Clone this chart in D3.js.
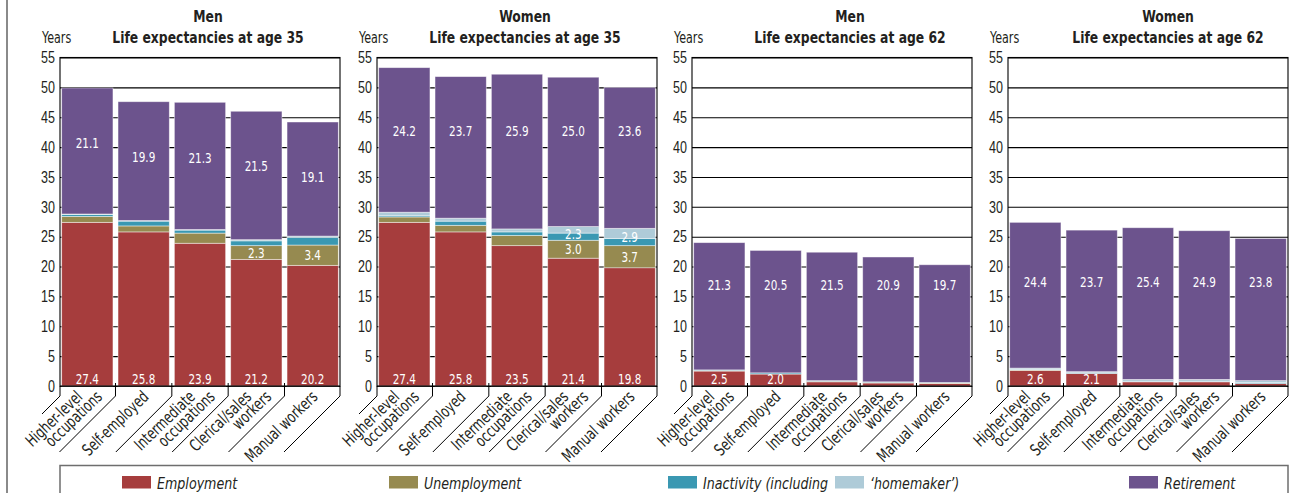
<!DOCTYPE html>
<html>
<head>
<meta charset="utf-8">
<script src="https://cdn.jsdelivr.net/npm/d3@7"></script>
<style>
body { margin: 0; background: #fff; }
svg { display: block; font-family: "DejaVu Sans Condensed", "DejaVu Sans", sans-serif; }
</style>
</head>
<body>
<svg id="chart" width="1293" height="493"></svg>
<script>
// categories and label lines
const categories = ["Higher-level occupations", "Self-employed", "Intermediate occupations", "Clerical/sales workers", "Manual workers"];
const categoryLines = [["Higher-level", "occupations"], ["Self-employed"], ["Intermediate", "occupations"], ["Clerical/sales", "workers"], ["Manual workers"]];

const panelTitles = [
    ["Men", "Life expectancies at age 35"],
    ["Women", "Life expectancies at age 35"],
    ["Men", "Life expectancies at age 62"],
    ["Women", "Life expectancies at age 62"]
];

const yTicks = [0, 5, 10, 15, 20, 25, 30, 35, 40, 45, 50, 55];

// years spent in each state
const men35Employment   = [27.4, 25.8, 23.9, 21.2, 20.2];
const men35Unemployment = [1.0, 1.0, 1.7, 2.3, 3.4];
const men35Inactivity   = [0.3, 0.8, 0.5, 0.8, 1.3];
const men35Homemaker    = [0.1, 0.1, 0.1, 0.2, 0.2];
const men35Retirement   = [21.1, 19.9, 21.3, 21.5, 19.1];

const women35Employment   = [27.4, 25.8, 23.5, 21.4, 19.8];
const women35Unemployment = [0.9, 1.1, 1.7, 3.0, 3.7];
const women35Inactivity   = [0.2, 0.7, 0.6, 1.2, 1.2];
const women35Homemaker    = [0.6, 0.5, 0.5, 1.1, 1.7];
const women35Retirement   = [24.2, 23.7, 25.9, 25.0, 23.6];

const men62Employment   = [2.5, 2.0, 0.7, 0.5, 0.4];
const men62Unemployment = [0.1, 0.0, 0.1, 0.1, 0.1];
const men62Inactivity   = [0.1, 0.2, 0.1, 0.1, 0.1];
const men62Homemaker    = [0.0, 0.0, 0.0, 0.0, 0.0];
const men62Retirement   = [21.3, 20.5, 21.5, 20.9, 19.7];

const women62Employment   = [2.6, 2.1, 0.7, 0.7, 0.4];
const women62Unemployment = [0.1, 0.0, 0.0, 0.0, 0.0];
const women62Inactivity   = [0.1, 0.1, 0.1, 0.1, 0.2];
const women62Homemaker    = [0.2, 0.2, 0.3, 0.3, 0.3];
const women62Retirement   = [24.4, 23.7, 25.4, 24.9, 23.8];

const seriesKeys = ["employment", "unemployment", "inactivity", "homemaker", "retirement"];
const legendLabels = ["Employment", "Unemployment", "Inactivity (including", "\u2018homemaker\u2019)", "Retirement"];

const panelData = [
    [men35Employment, men35Unemployment, men35Inactivity, men35Homemaker, men35Retirement],
    [women35Employment, women35Unemployment, women35Inactivity, women35Homemaker, women35Retirement],
    [men62Employment, men62Unemployment, men62Inactivity, men62Homemaker, men62Retirement],
    [women62Employment, women62Unemployment, women62Inactivity, women62Homemaker, women62Retirement]
];

// layout
const colors = {
    employment: "#a63d3d",
    unemployment: "#968a50",
    inactivity: "#3a98b2",
    homemaker: "#aecbd8",
    retirement: "#6c538d"
};
const panelLeft = [60, 377, 692, 1008];
const panelW = 280;
const plotTop = 57.5, plotBottom = 386;
const titleShift = [0, 0, 10, 12];
const retLabelAt = [null, 42.8, 16.9, 17.5];   // null -> follow bar top
const legendX = [122, 389, 668, 835, 1129];
const textColor = "#231f20";

const svg = d3.select("#chart");

// condensed text: the installed fonts are wider than the original one
function ctext(parent, x, y, str, o){
    let tr = `translate(${x},${y})` + (o.rot ? ` rotate(${o.rot})` : "") + ` scale(${o.k},1)`;
    return parent.append("text")
        .attr("transform", tr)
        .attr("text-anchor", o.anchor || "start")
        .attr("font-size", o.size)
        .attr("font-weight", o.bold ? "bold" : null)
        .attr("font-style", o.italic ? "italic" : null)
        .attr("dy", o.dy || null)
        .attr("fill", o.fill || textColor)
        .text(str);
}

// outer frame line on the left
svg.append("line")
    .attr("x1", 7).attr("x2", 7).attr("y1", 0).attr("y2", 493)
    .attr("stroke", "#8a8a8a").attr("stroke-width", 2);

const y = d3.scaleLinear().domain([0, 55]).range([plotBottom, plotTop]);

panelData.forEach(function(series, i){

    let left = panelLeft[i];
    let right = left + panelW;
    let g = svg.append("g");

    let x = d3.scaleBand()
        .domain(categories)
        .range([left, right])
        .paddingInner(0.09)
        .paddingOuter(0.03);

    //Gridlines and tick labels
    let tickK = 0.76;
    g.append("g")
        .attr("transform", `translate(${left},0)`)
        .call(d3.axisLeft(y).tickValues(yTicks).tickSize(-panelW).tickPadding(5))
        .call(a => a.select(".domain").remove())
        .call(a => a.selectAll(".tick line").attr("stroke", "#000").attr("stroke-width", 1.1))
        .call(a => a.selectAll(".tick text")
            .attr("x", -5 / tickK)
            .attr("transform", `scale(${tickK},1)`)
            .attr("font-size", 16.5)
            .attr("font-family", null)
            .attr("fill", textColor));

    //Stacked bars
    let rows = categories.map(function(c, j){
        let r = {cat: c};
        seriesKeys.forEach((k, s) => r[k] = series[s][j]);
        return r;
    });
    let stacked = d3.stack().keys(seriesKeys)(rows);

    g.append("g").selectAll("g")
        .data(stacked)
        .join("g")
        .attr("fill", d => colors[d.key])
        .selectAll("rect")
        .data(d => d.filter(s => s[1] - s[0] > 0))
        .join("rect")
        .attr("x", d => x(d.data.cat))
        .attr("width", x.bandwidth())
        .attr("y", d => y(d[1]))
        .attr("height", d => y(d[0]) - y(d[1]))
        .attr("stroke", "rgba(255,255,255,0.55)")
        .attr("stroke-width", 0.8);

    //Frame
    g.append("rect")
        .attr("x", left).attr("y", plotTop)
        .attr("width", panelW).attr("height", plotBottom - plotTop)
        .attr("fill", "none").attr("stroke", "#000").attr("stroke-width", 1.1);

    //Value labels
    let labels = [];
    rows.forEach(function(r){
        let cx = x(r.cat) + x.bandwidth() / 2;
        if (r.employment >= 2) labels.push({x: cx, y: plotBottom - 7.5, v: r.employment});
        if (r.unemployment >= 2) labels.push({x: cx, y: y(r.employment + r.unemployment / 2), v: r.unemployment});
        let inact = r.inactivity + r.homemaker;
        if (inact >= 2) labels.push({x: cx, y: y(r.employment + r.unemployment + inact / 2), v: inact});
        let total = r.employment + r.unemployment + inact + r.retirement;
        let ly = retLabelAt[i] === null ? y(total) + 55 : y(retLabelAt[i]);
        labels.push({x: cx, y: ly, v: r.retirement});
    });

    let lg = g.append("g");
    labels.forEach(d => ctext(lg, d.x, d.y, d.v.toFixed(1),
        {k: 0.8, size: 14.5, anchor: "middle", dy: "0.36em", fill: "#fff"}));

    //Category separators below the axis
    let bounds = [left];
    for (let j = 1; j < categories.length; j++) {
        bounds.push((x(categories[j - 1]) + x.bandwidth() + x(categories[j])) / 2);
    }
    bounds.push(right);

    let sep = g.append("g").attr("stroke", "#000").attr("stroke-width", 1);
    bounds.forEach(function(bx, j){
        let edge = (j === 0 || j === bounds.length - 1);
        let len = j === 0 ? 18 : 56;
        sep.append("line")
            .attr("x1", bx).attr("x2", bx)
            .attr("y1", edge ? plotBottom : plotBottom - 3).attr("y2", plotBottom + 10);
        sep.append("line")
            .attr("x1", bx).attr("y1", plotBottom + 10)
            .attr("x2", bx - len).attr("y2", plotBottom + 10 + len);
    });

    //Category labels
    categories.forEach(function(c, j){
        let lines = categoryLines[j];
        let n = lines.length;
        lines.forEach(function(t, li){
            let ex = x(c) + x.bandwidth() / 2 + (li - (n - 1) / 2) * 20 + 6;
            let ey = plotBottom + 12;
            ctext(g, ex, ey, t, {k: 0.8, size: 16.5, anchor: "end", rot: -44});
        });
    });

    //Titles
    let tx = (left + 16 + right) / 2 + titleShift[i];
    ctext(g, tx, 21.5, panelTitles[i][0], {k: 0.86, size: 16, anchor: "middle", bold: true});
    ctext(g, tx, 43, panelTitles[i][1], {k: 0.86, size: 16, anchor: "middle", bold: true});
    ctext(g, left - 18, 43, "Years", {k: 0.8, size: 15.5});
});

//Legend
let legend = svg.append("g");
legend.append("rect")
    .attr("x", 60).attr("y", 465.5)
    .attr("width", 1228).attr("height", 60)
    .attr("fill", "none").attr("stroke", "#6e6e6e").attr("stroke-width", 1.5);

seriesKeys.forEach(function(k, s){
    legend.append("rect")
        .attr("x", legendX[s]).attr("y", 476)
        .attr("width", 29).attr("height", 12.5)
        .attr("fill", colors[k]);
    ctext(legend, legendX[s] + 35, 488.5, legendLabels[s], {k: 0.88, size: 16, italic: true});
});
</script>
</body>
</html>
